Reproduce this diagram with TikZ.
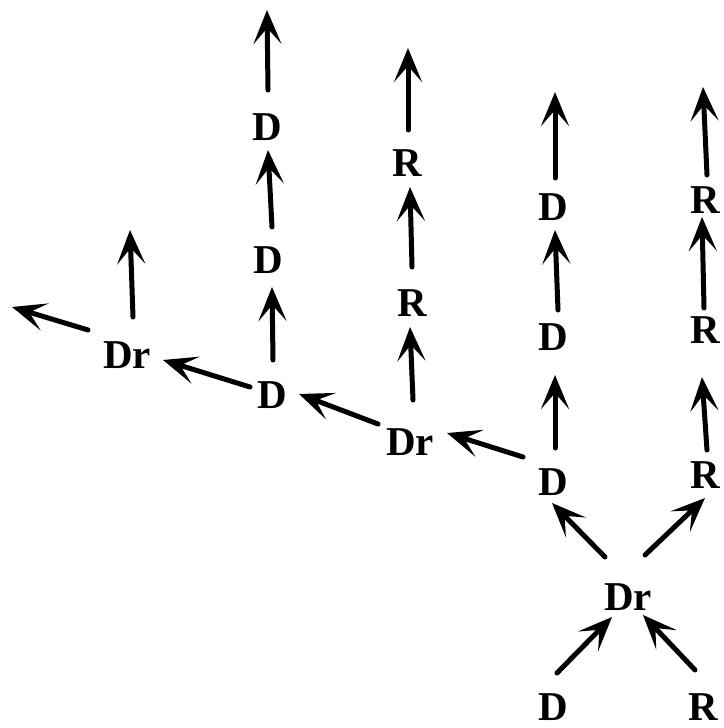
\documentclass[tikz,border=0pt]{standalone}
\usepackage{fontspec}
\setmainfont{Liberation Serif}
\usetikzlibrary{arrows.meta}
\tikzset{
  lbl/.style={inner sep=0pt, font=\fontsize{41}{41}\selectfont\bfseries},
  arr/.style={line width=5pt, line cap=round, >={Stealth[length=34pt, width=28pt, inset=16pt]}, ->}
}
\begin{document}
\begin{tikzpicture}[x=1pt,y=-1pt]
\useasboundingbox (0,0) rectangle (723,728);
% nodes
\node[lbl] (bD)  at (553,707) {D};
\node[lbl] (bR)  at (703,707) {R};
\node[lbl] (dr0) at (628,597) {Dr};
\node[lbl] (cD1) at (553,482) {D};
\node[lbl] (cD2) at (553,337) {D};
\node[lbl] (cD3) at (553,207) {D};
\node[lbl] (cR1) at (705,475) {R};
\node[lbl] (cR2) at (705,330) {R};
\node[lbl] (cR3) at (705,200) {R};
\node[lbl] (dr1) at (410,442) {Dr};
\node[lbl] (Ra)  at (412,303) {R};
\node[lbl] (Rb)  at (407,163) {R};
\node[lbl] (D2)  at (272,395) {D};
\node[lbl] (Da)  at (268,260) {D};
\node[lbl] (Db)  at (267,127) {D};
\node[lbl] (dr3) at (127,355) {Dr};
% free ends
\coordinate (tD)  at (555,92);
\coordinate (tR)  at (703,87);
\coordinate (tRb) at (408,48);
\coordinate (tDb) at (267,10);
\coordinate (tdr) at (130,230);
\coordinate (lft) at (12,307);
% connectors
\draw[arr] ([shift={(4,-34)}]bD.center) -- ([shift={(-16,20)}]dr0.center);
\draw[arr] ([shift={(-8,-37)}]bR.center) -- ([shift={(15,18)}]dr0.center);
\draw[arr] ([shift={(-23,-40)}]dr0.center) -- ([shift={(-1,21)}]cD1.center);
\draw[arr] ([shift={(17,-42)}]dr0.center) -- ([shift={(0,23)}]cR1.center);
\draw[arr] ([shift={(2,-34)}]cD1.center) -- ([shift={(2,38)}]cD2.center);
\draw[arr] ([shift={(5,-27)}]cD2.center) -- ([shift={(2,23)}]cD3.center);
\draw[arr] ([shift={(2,-29)}]cD3.center) -- (tD);
\draw[arr] ([shift={(2,-25)}]cR1.center) -- ([shift={(-3,47)}]cR2.center);
\draw[arr] ([shift={(-1,-22)}]cR2.center) -- ([shift={(-3,17)}]cR3.center);
\draw[arr] ([shift={(2,-25)}]cR3.center) -- (tR);
\draw[arr] ([shift={(-30,-25)}]cD1.center) -- ([shift={(37,-9)}]dr1.center);
\draw[arr] ([shift={(3,-42)}]dr1.center) -- ([shift={(-2,24)}]Ra.center);
\draw[arr] ([shift={(0,-36)}]Ra.center) -- ([shift={(3,24)}]Rb.center);
\draw[arr] ([shift={(1,-33)}]Rb.center) -- (tRb);
\draw[arr] ([shift={(-32,-18)}]dr1.center) -- ([shift={(27,-1)}]D2.center);
\draw[arr] ([shift={(1,-35)}]D2.center) -- ([shift={(4,27)}]Da.center);
\draw[arr] ([shift={(4,-33)}]Da.center) -- ([shift={(1,23)}]Db.center);
\draw[arr] ([shift={(1,-37)}]Db.center) -- (tDb);
\draw[arr] ([shift={(-22,-8)}]D2.center) -- ([shift={(36,5)}]dr3.center);
\draw[arr] ([shift={(6,-38)}]dr3.center) -- (tdr);
\draw[arr] ([shift={(-39,-25)}]dr3.center) -- (lft);
\end{tikzpicture}
\end{document}
